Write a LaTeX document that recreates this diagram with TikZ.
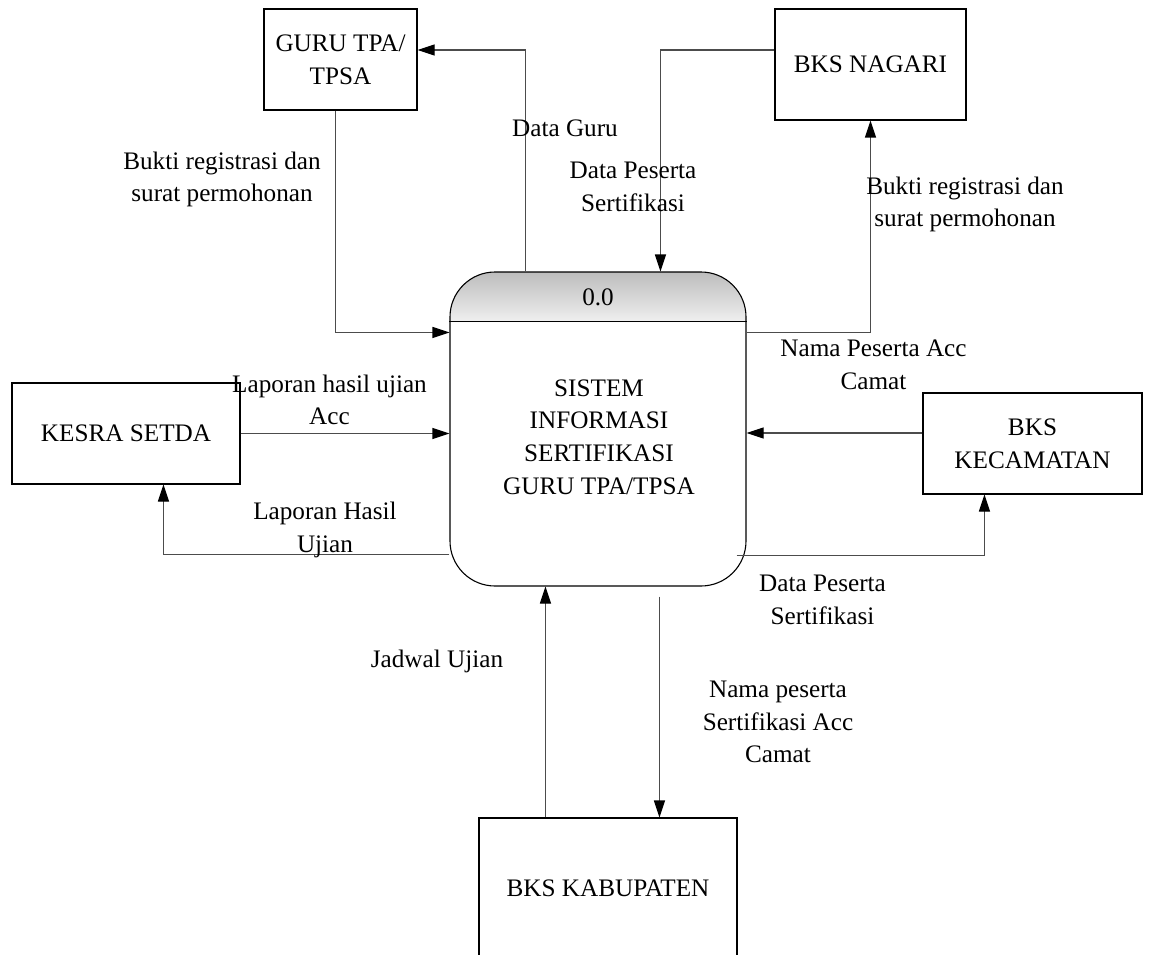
\documentclass[tikz,border=0pt]{standalone}
\usepackage{fontspec}
\setmainfont{Liberation Serif}
\usetikzlibrary{arrows.meta,calc}
\begin{document}
\begin{tikzpicture}[x=1pt,y=-1pt,
  txt/.style={font=\fontsize{25.2}{32.7}\selectfont},
  ent/.style={txt,draw=black,line width=1.1pt,fill=white,inner sep=0pt,align=center},
  lbl/.style={txt,inner sep=0pt,align=center},
  flow/.style={draw=black!70,line width=1.1pt,-{Triangle[length=17pt,width=11pt,color=black]}}]
\useasboundingbox (0,0) rectangle (1149,955);
% process header shading
\shade[top color=black!26,bottom color=black!6]
  (450,322) -- (450,317) arc[start angle=180,end angle=90,radius=45pt]
  -- (701,272) arc[start angle=90,end angle=0,radius=45pt] -- (746,322) -- cycle;
\node[draw=black,line width=1.1pt,rounded corners=45pt,minimum width=296pt,minimum height=314pt,inner sep=0pt] (proc) at (598,429) {};
\draw[line width=1.1pt] ($(proc.north west)+(0,50)$) -- ($(proc.north east)+(0,50)$);
\node[lbl] (pid) at (598,297) {0.0};
\node[lbl] (ptxt) at (599,437) {SISTEM\\INFORMASI\\SERTIFIKASI\\GURU TPA/TPSA};
% entities
\node[ent,minimum width=153pt,minimum height=101pt] (guru) at (340.5,59.5) {GURU TPA/\\TPSA};
\node[ent,minimum width=191pt,minimum height=111pt] (nagari) at (870.5,64.5) {BKS NAGARI};
\node[ent,minimum width=228pt,minimum height=101pt] (kesra) at (126,433.5) {KESRA SETDA};
\node[ent,minimum width=219pt,minimum height=101pt] (kec) at (1032.5,443.5) {BKS\\KECAMATAN};
\node[ent,minimum width=258pt,minimum height=140pt] (kab) at (608,888) {BKS KABUPATEN};
% flows
\draw[flow] ($(proc.north west)+(76,0)$) |- ($(guru.east)+(0,-9.5)$);
\draw[flow] ($(guru.south west)+(72,0)$) |- ($(proc.north west)+(0,61)$);
\draw[flow] ($(nagari.west)+(0,-14.5)$) -| ($(proc.north west)+(211,0)$);
\draw[flow] ($(proc.north east)+(0,61)$) -| (nagari.south);
\draw[flow] (kesra.east) -- (kesra.east -| proc.west);
\draw[flow] ($(proc.south west)+(0,-32)$) -| ($(kesra.south west)+(152,0)$);
\coordinate (k1) at ($(kec.west)+(0,-10.5)$);
\draw[flow] (k1) -- (k1 -| proc.east);
\draw[flow] ($(proc.south east)+(-10,-31)$) -| ($(kec.south west)+(62,0)$);
\coordinate (kb1) at ($(kab.north west)+(67,0)$);
\draw[flow] (kb1) -- (kb1 |- proc.south);
\coordinate (kb2) at ($(kab.north west)+(181,0)$);
\draw[flow] ($(kb2 |- proc.south)+(0,10)$) -- (kb2);
% labels
\node[lbl,anchor=base] (l1) at (565,137) {Data Guru};
\node[lbl] (l2) at (222,179.5) {Bukti registrasi dan\\surat permohonan};
\node[lbl] (l3) at (633,187) {Data Peserta\\Sertifikasi};
\node[lbl] (l4) at (965,204.5) {Bukti registrasi dan\\surat permohonan};
\node[lbl] (l5) at (873.5,364.5) {Nama Peserta Acc\\Camat};
\node[lbl] (l6) at (329.5,400) {Laporan hasil ujian\\Acc};
\node[lbl] (l7) at (325,530) {Laporan Hasil\\Ujian};
\node[lbl] (l8) at (822.5,600) {Data Peserta\\Sertifikasi};
\node[lbl,anchor=base] (l9) at (437,667) {Jadwal Ujian};
\node[lbl] (l10) at (778,722) {Nama peserta\\Sertifikasi Acc\\Camat};
\end{tikzpicture}
\end{document}
